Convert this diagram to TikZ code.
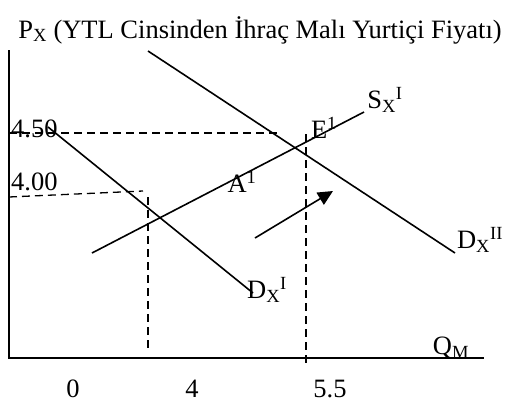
\documentclass[tikz,border=0pt]{standalone}
\usepackage{fontspec}
\setmainfont{Liberation Serif}
\usetikzlibrary{arrows.meta}
\newcommand{\sbx}[1]{\textsubscript{#1}}
\newcommand{\spx}[1]{\textsuperscript{#1}}
\begin{document}
\begin{tikzpicture}[x=1pt,y=-1pt,
  curve/.style={line width=1.6pt},
  guide/.style={line width=1.3pt,dash pattern=on 8pt off 5pt},
  lbl/.style={inner sep=0pt,font=\fontsize{26.5}{30}\selectfont}]
\useasboundingbox (0,0) rectangle (507,408);
% axes
\coordinate (ytop) at (9,50);
\coordinate (orig) at (9,358);
\coordinate (xend) at (484,358);
\draw[line width=1.6pt] (ytop) -- (orig) -- (xend);
% guides
\coordinate (h45a) at (9,133);
\coordinate (h45b) at (280,133);
\coordinate (v55a) at (306,134);
\coordinate (v55b) at (306,364);
\coordinate (h40a) at (9,197);
\coordinate (h40b) at (143,191);
\coordinate (v4a) at (148,197);
\coordinate (v4b) at (148,352);
\draw[guide] (h45a) -- (h45b);
\draw[guide] (v55a) -- (v55b);
\draw[guide] (h40a) -- (h40b);
\draw[guide] (v4a) -- (v4b);
% curves
\coordinate (d1a) at (48,127);
\coordinate (d1b) at (253,293);
\coordinate (sa) at (92,253);
\coordinate (sb) at (364,112);
\coordinate (d2a) at (148,51);
\coordinate (d2b) at (455,253);
\draw[curve] (d1a) -- (d1b);
\draw[curve] (sa) -- (sb);
\draw[curve] (d2a) -- (d2b);
% shift arrow
\coordinate (ara) at (255,238);
\coordinate (arb) at (333,191);
\draw[curve,-{Triangle[length=15pt,width=14pt]}] (ara) -- (arb);
% labels
\node[lbl] (title) at (260,30) {P\sbx{X} (YTL Cinsinden İhraç Malı Yurtiçi Fiyatı)};
\node[lbl,anchor=west] (l45) at (11,129) {4.50};
\node[lbl,anchor=west] (l40) at (11,182) {4.00};
\node[lbl] (sl) at (385,100) {S\sbx{X}\spx{I}};
\node[lbl] (el) at (324,128) {E\spx{1}};
\node[lbl] (al) at (242,182) {A\spx{1}};
\node[lbl] (d2l) at (480,240) {D\sbx{X}\spx{II}};
\node[lbl] (d1l) at (267,290) {D\sbx{X}\spx{I}};
\node[lbl] (ql) at (451,348) {Q\sbx{M}};
\node[lbl] (x0) at (73,389) {0};
\node[lbl] (x4) at (192,389) {4};
\node[lbl] (x55) at (330,389) {5.5};
\end{tikzpicture}
\end{document}
